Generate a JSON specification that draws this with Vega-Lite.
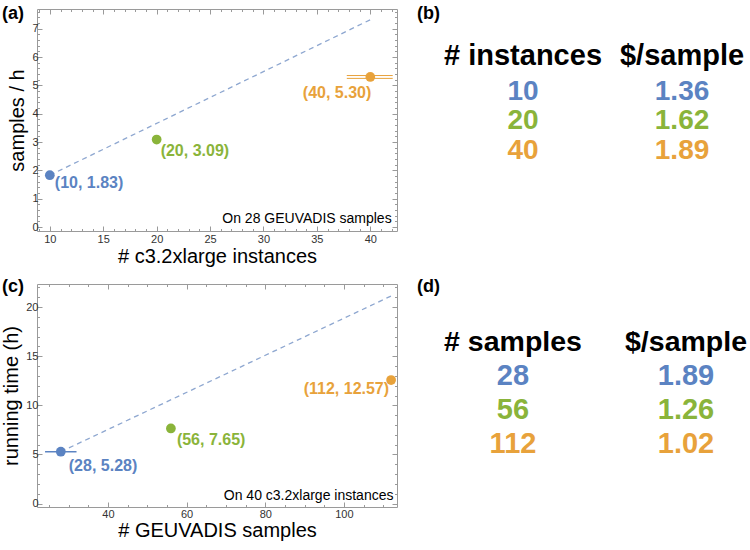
{
  "$schema": "https://vega.github.io/schema/vega-lite/v6.json",
  "padding": {"left": 1, "top": 4, "right": 0, "bottom": 0},
  "background": "white",
  "config": {
    "font": "Liberation Sans",
    "view": {"stroke": "#9a9a9a", "strokeWidth": 1},
    "axis": {"domain": false, "grid": false, "labelFont": "Liberation Sans", "labelFontSize": 11, "labelColor": "#333333", "tickColor": "#9a9a9a", "titleFont": "Liberation Sans", "titleFontSize": 20, "titleFontWeight": "normal", "titleColor": "#000000"},
    "title": {"font": "Liberation Sans", "fontSize": 18, "fontWeight": "bold", "color": "#000000"}
  },
  "datasets": {
    "aPts": [
      {"n": 10, "v": 1.83, "g": "g1", "label": "(10, 1.83)"},
      {"n": 20, "v": 3.09, "g": "g2", "label": "(20, 3.09)"},
      {"n": 40, "v": 5.30, "g": "g3", "label": "(40, 5.30)"}
    ],
    "aLine": [{"n": 10, "v": 1.83}, {"n": 40, "v": 7.32}],
    "aErr": [{"lo": 37.8, "hi": 42.1, "v": 5.25}, {"lo": 37.8, "hi": 42.1, "v": 5.35}],
    "cPts": [
      {"n": 28, "v": 5.28, "g": "g1", "label": "(28, 5.28)"},
      {"n": 56, "v": 7.65, "g": "g2", "label": "(56, 7.65)"},
      {"n": 112, "v": 12.57, "g": "g3", "label": "(112, 12.57)"}
    ],
    "cLine": [{"n": 28, "v": 5.28}, {"n": 112, "v": 21.12}],
    "cErr": [{"lo": 24, "hi": 32, "v": 5.28}],
    "bTab": [
      {"col": 1, "row": 0, "text": "# instances", "g": "h"},
      {"col": 2, "row": 0, "text": "$/sample", "g": "h"},
      {"col": 1, "row": 1, "text": "10", "g": "g1"},
      {"col": 2, "row": 1, "text": "1.36", "g": "g1"},
      {"col": 1, "row": 2, "text": "20", "g": "g2"},
      {"col": 2, "row": 2, "text": "1.62", "g": "g2"},
      {"col": 1, "row": 3, "text": "40", "g": "g3"},
      {"col": 2, "row": 3, "text": "1.89", "g": "g3"}
    ],
    "dTab": [
      {"col": 1, "row": 0, "text": "# samples", "g": "h"},
      {"col": 2, "row": 0, "text": "$/sample", "g": "h"},
      {"col": 1, "row": 1, "text": "28", "g": "g1"},
      {"col": 2, "row": 1, "text": "1.89", "g": "g1"},
      {"col": 1, "row": 2, "text": "56", "g": "g2"},
      {"col": 2, "row": 2, "text": "1.26", "g": "g2"},
      {"col": 1, "row": 3, "text": "112", "g": "g3"},
      {"col": 2, "row": 3, "text": "1.02", "g": "g3"}
    ]
  },
  "bounds": "flush",
  "columns": 2,
  "spacing": {"row": 53, "column": 12},
  "concat": [
    {
      "width": 360,
      "height": 222,
      "title": {"text": "(a)", "anchor": "start", "frame": "group", "dx": -35, "dy": 14, "offset": 0},
      "resolve": {"axis": {"x": "independent", "y": "independent"}},
      "layer": [
        {
          "data": {"name": "aLine"},
          "mark": {"type": "line", "strokeDash": [5, 4], "color": "#8ea7d0", "strokeWidth": 1.3},
          "encoding": {
            "x": {"field": "n", "type": "quantitative", "scale": {"domain": [8.8, 42.5], "nice": false, "zero": false},
              "axis": {"orient": "bottom", "title": "# c3.2xlarge instances", "titlePadding": 2, "labelPadding": 7,
                "values": [9,10,11,12,13,14,15,16,17,18,19,20,21,22,23,24,25,26,27,28,29,30,31,32,33,34,35,36,37,38,39,40,41,42],
                "labelExpr": "datum.value % 5 === 0 ? format(datum.value, 'd') : ''",
                "tickSize": {"condition": {"test": "datum.value % 5 === 0", "value": -5}, "value": -2.5}}},
            "y": {"field": "v", "type": "quantitative", "scale": {"domain": [-0.14, 7.7], "nice": false, "zero": false},
              "axis": {"orient": "left", "title": "samples / h", "titlePadding": 4, "labelPadding": 4,
                "values": [0,0.2,0.4,0.6,0.8,1,1.2,1.4,1.6,1.8,2,2.2,2.4,2.6,2.8,3,3.2,3.4,3.6,3.8,4,4.2,4.4,4.6,4.8,5,5.2,5.4,5.6,5.8,6,6.2,6.4,6.6,6.8,7,7.2,7.4,7.6],
                "labelExpr": "datum.value % 1 === 0 ? format(datum.value, 'd') : ''",
                "tickSize": {"condition": {"test": "datum.value % 1 === 0", "value": -5}, "value": -2.5}}}
          }
        },
        {
          "data": {"name": "aErr"},
          "mark": {"type": "rule", "color": "#e8a23b", "strokeWidth": 1},
          "encoding": {
            "x": {"field": "lo", "type": "quantitative", "scale": {"domain": [8.8, 42.5], "nice": false, "zero": false},
              "axis": {"orient": "top", "title": null, "labels": false,
                "values": [9,10,11,12,13,14,15,16,17,18,19,20,21,22,23,24,25,26,27,28,29,30,31,32,33,34,35,36,37,38,39,40,41,42],
                "tickSize": {"condition": {"test": "datum.value % 5 === 0", "value": -5}, "value": -2.5}}},
            "x2": {"field": "hi"},
            "y": {"field": "v", "type": "quantitative", "scale": {"domain": [-0.14, 7.7], "nice": false, "zero": false},
              "axis": {"orient": "right", "title": null, "labels": false,
                "values": [0,0.2,0.4,0.6,0.8,1,1.2,1.4,1.6,1.8,2,2.2,2.4,2.6,2.8,3,3.2,3.4,3.6,3.8,4,4.2,4.4,4.6,4.8,5,5.2,5.4,5.6,5.8,6,6.2,6.4,6.6,6.8,7,7.2,7.4,7.6],
                "tickSize": {"condition": {"test": "datum.value % 1 === 0", "value": -5}, "value": -2.5}}}
          }
        },
        {
          "data": {"name": "aPts"},
          "mark": {"type": "circle", "size": 95, "opacity": 1},
          "encoding": {
            "x": {"field": "n", "type": "quantitative", "axis": null},
            "y": {"field": "v", "type": "quantitative", "axis": null},
            "color": {"field": "g", "type": "nominal", "legend": null, "scale": {"domain": ["g1", "g2", "g3", "h"], "range": ["#5b83c2", "#8ab43a", "#e8a23b", "#000000"]}}
          }
        },
        {
          "data": {"name": "aPts"},
          "transform": [{"filter": "datum.n == 10"}],
          "mark": {"type": "text", "align": "left", "baseline": "middle", "dx": 5, "dy": 8, "fontSize": 16, "fontWeight": "bold"},
          "encoding": {
            "x": {"field": "n", "type": "quantitative", "axis": null},
            "y": {"field": "v", "type": "quantitative", "axis": null},
            "text": {"field": "label"},
            "color": {"field": "g", "type": "nominal", "legend": null}
          }
        },
        {
          "data": {"name": "aPts"},
          "transform": [{"filter": "datum.n == 20"}],
          "mark": {"type": "text", "align": "left", "baseline": "middle", "dx": 4, "dy": 11, "fontSize": 16, "fontWeight": "bold"},
          "encoding": {
            "x": {"field": "n", "type": "quantitative", "axis": null},
            "y": {"field": "v", "type": "quantitative", "axis": null},
            "text": {"field": "label"},
            "color": {"field": "g", "type": "nominal", "legend": null}
          }
        },
        {
          "data": {"name": "aPts"},
          "transform": [{"filter": "datum.n == 40"}],
          "mark": {"type": "text", "align": "right", "baseline": "middle", "dx": 1, "dy": 16, "fontSize": 16, "fontWeight": "bold"},
          "encoding": {
            "x": {"field": "n", "type": "quantitative", "axis": null},
            "y": {"field": "v", "type": "quantitative", "axis": null},
            "text": {"field": "label"},
            "color": {"field": "g", "type": "nominal", "legend": null}
          }
        },
        {
          "data": {"values": [{"note": "On 28 GEUVADIS samples"}]},
          "mark": {"type": "text", "align": "right", "baseline": "middle", "fontSize": 14, "color": "#000000"},
          "encoding": {
            "x": {"datum": 42.0, "type": "quantitative", "axis": null},
            "y": {"datum": 0.3, "type": "quantitative", "axis": null},
            "text": {"field": "note"}
          }
        }
      ]
    },
    {
      "width": 340,
      "height": 222,
      "view": {"stroke": null},
      "title": {"text": "(b)", "anchor": "start", "frame": "group", "dx": 8, "dy": 14, "offset": 0},
      "data": {"name": "bTab"},
      "layer": [
        {
          "transform": [{"filter": "datum.row == 0"}],
          "mark": {"type": "text", "align": "center", "baseline": "middle", "fontSize": 29, "fontWeight": "bold", "dy": -6.5},
          "encoding": {
            "x": {"field": "col", "type": "quantitative", "scale": {"domain": [0.283, 2.421], "nice": false, "zero": false}, "axis": null},
            "y": {"field": "row", "type": "quantitative", "scale": {"domain": [-1.81, 5.71], "nice": false, "zero": false, "reverse": true}, "axis": null},
            "text": {"field": "text"},
            "color": {"field": "g", "type": "nominal", "legend": null, "scale": {"domain": ["g1", "g2", "g3", "h"], "range": ["#5b83c2", "#8ab43a", "#e8a23b", "#000000"]}}
          }
        },
        {
          "transform": [{"filter": "datum.row > 0"}],
          "mark": {"type": "text", "align": "center", "baseline": "middle", "fontSize": 28, "fontWeight": "bold"},
          "encoding": {
            "x": {"field": "col", "type": "quantitative", "axis": null},
            "y": {"field": "row", "type": "quantitative", "axis": null},
            "text": {"field": "text"},
            "color": {"field": "g", "type": "nominal", "legend": null}
          }
        }
      ]
    },
    {
      "width": 360,
      "height": 223,
      "title": {"text": "(c)", "anchor": "start", "frame": "group", "dx": -35, "dy": 12, "offset": 0},
      "resolve": {"axis": {"x": "independent", "y": "independent"}},
      "layer": [
        {
          "data": {"name": "cLine"},
          "mark": {"type": "line", "strokeDash": [5, 4], "color": "#8ea7d0", "strokeWidth": 1.3},
          "encoding": {
            "x": {"field": "n", "type": "quantitative", "scale": {"domain": [21.95, 113.5], "nice": false, "zero": false},
              "axis": {"orient": "bottom", "title": "# GEUVADIS samples", "titlePadding": 1, "labelPadding": 6,
                "values": [25,30,35,40,45,50,55,60,65,70,75,80,85,90,95,100,105,110],
                "labelExpr": "datum.value % 20 === 0 ? format(datum.value, 'd') : ''",
                "tickSize": {"condition": {"test": "datum.value % 20 === 0", "value": -5}, "value": -2.5}}},
            "y": {"field": "v", "type": "quantitative", "scale": {"domain": [-0.34, 22.34], "nice": false, "zero": false},
              "axis": {"orient": "left", "title": "running time (h)", "titlePadding": 4, "labelPadding": 4,
                "values": [0,1,2,3,4,5,6,7,8,9,10,11,12,13,14,15,16,17,18,19,20,21,22],
                "labelExpr": "datum.value % 5 === 0 ? format(datum.value, 'd') : ''",
                "tickSize": {"condition": {"test": "datum.value % 5 === 0", "value": -5}, "value": -2.5}}}
          }
        },
        {
          "data": {"name": "cErr"},
          "mark": {"type": "rule", "color": "#5b83c2", "strokeWidth": 1.5},
          "encoding": {
            "x": {"field": "lo", "type": "quantitative", "scale": {"domain": [21.95, 113.5], "nice": false, "zero": false},
              "axis": {"orient": "top", "title": null, "labels": false,
                "values": [25,30,35,40,45,50,55,60,65,70,75,80,85,90,95,100,105,110],
                "tickSize": {"condition": {"test": "datum.value % 20 === 0", "value": -5}, "value": -2.5}}},
            "x2": {"field": "hi"},
            "y": {"field": "v", "type": "quantitative", "scale": {"domain": [-0.34, 22.34], "nice": false, "zero": false},
              "axis": {"orient": "right", "title": null, "labels": false,
                "values": [0,1,2,3,4,5,6,7,8,9,10,11,12,13,14,15,16,17,18,19,20,21,22],
                "tickSize": {"condition": {"test": "datum.value % 5 === 0", "value": -5}, "value": -2.5}}}
          }
        },
        {
          "data": {"name": "cPts"},
          "mark": {"type": "circle", "size": 95, "opacity": 1},
          "encoding": {
            "x": {"field": "n", "type": "quantitative", "axis": null},
            "y": {"field": "v", "type": "quantitative", "axis": null},
            "color": {"field": "g", "type": "nominal", "legend": null, "scale": {"domain": ["g1", "g2", "g3", "h"], "range": ["#5b83c2", "#8ab43a", "#e8a23b", "#000000"]}}
          }
        },
        {
          "data": {"name": "cPts"},
          "transform": [{"filter": "datum.n == 28"}],
          "mark": {"type": "text", "align": "left", "baseline": "middle", "dx": 8, "dy": 14, "fontSize": 16, "fontWeight": "bold"},
          "encoding": {
            "x": {"field": "n", "type": "quantitative", "axis": null},
            "y": {"field": "v", "type": "quantitative", "axis": null},
            "text": {"field": "label"},
            "color": {"field": "g", "type": "nominal", "legend": null}
          }
        },
        {
          "data": {"name": "cPts"},
          "transform": [{"filter": "datum.n == 56"}],
          "mark": {"type": "text", "align": "left", "baseline": "middle", "dx": 6, "dy": 12, "fontSize": 16, "fontWeight": "bold"},
          "encoding": {
            "x": {"field": "n", "type": "quantitative", "axis": null},
            "y": {"field": "v", "type": "quantitative", "axis": null},
            "text": {"field": "label"},
            "color": {"field": "g", "type": "nominal", "legend": null}
          }
        },
        {
          "data": {"name": "cPts"},
          "transform": [{"filter": "datum.n == 112"}],
          "mark": {"type": "text", "align": "right", "baseline": "middle", "dx": -2, "dy": 9, "fontSize": 16, "fontWeight": "bold"},
          "encoding": {
            "x": {"field": "n", "type": "quantitative", "axis": null},
            "y": {"field": "v", "type": "quantitative", "axis": null},
            "text": {"field": "label"},
            "color": {"field": "g", "type": "nominal", "legend": null}
          }
        },
        {
          "data": {"values": [{"note": "On 40 c3.2xlarge instances"}]},
          "mark": {"type": "text", "align": "right", "baseline": "middle", "fontSize": 14, "color": "#000000"},
          "encoding": {
            "x": {"datum": 112.6, "type": "quantitative", "axis": null},
            "y": {"datum": 0.8, "type": "quantitative", "axis": null},
            "text": {"field": "note"}
          }
        }
      ]
    },
    {
      "width": 340,
      "height": 223,
      "view": {"stroke": null},
      "title": {"text": "(d)", "anchor": "start", "frame": "group", "dx": 8, "dy": 12, "offset": 0},
      "data": {"name": "dTab"},
      "layer": [
        {
          "transform": [{"filter": "datum.row == 0"}],
          "mark": {"type": "text", "align": "center", "baseline": "middle", "fontSize": 28.5, "fontWeight": "bold", "dy": 0},
          "encoding": {
            "x": {"field": "col", "type": "quantitative", "scale": {"domain": [0.399, 2.364], "nice": false, "zero": false}, "axis": null},
            "y": {"field": "row", "type": "quantitative", "scale": {"domain": [-1.71, 4.85], "nice": false, "zero": false, "reverse": true}, "axis": null},
            "text": {"field": "text"},
            "color": {"field": "g", "type": "nominal", "legend": null, "scale": {"domain": ["g1", "g2", "g3", "h"], "range": ["#5b83c2", "#8ab43a", "#e8a23b", "#000000"]}}
          }
        },
        {
          "transform": [{"filter": "datum.row > 0"}],
          "mark": {"type": "text", "align": "center", "baseline": "middle", "fontSize": 29, "fontWeight": "bold"},
          "encoding": {
            "x": {"field": "col", "type": "quantitative", "axis": null},
            "y": {"field": "row", "type": "quantitative", "axis": null},
            "text": {"field": "text"},
            "color": {"field": "g", "type": "nominal", "legend": null}
          }
        }
      ]
    }
  ]
}
